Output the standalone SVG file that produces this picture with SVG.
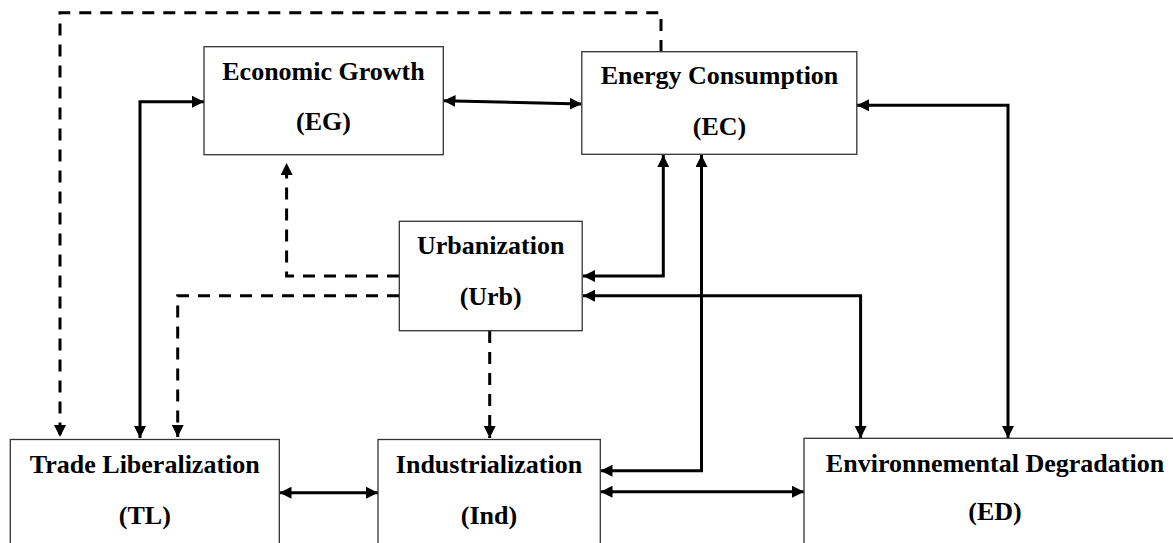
<svg xmlns="http://www.w3.org/2000/svg" width="1173" height="543" viewBox="0 0 1173 543">
<defs>
<marker id="ah" markerUnits="userSpaceOnUse" markerWidth="12" markerHeight="12" viewBox="0 0 12 12" refX="12" refY="6" orient="auto-start-reverse">
<path d="M0,0 L12,6 L0,12 z" fill="#000"/>
</marker>
<style>
.box{fill:#fff;stroke:#333;stroke-width:1.3}
.t{font-family:"Liberation Serif","Times New Roman",serif;font-weight:bold;font-size:26px;fill:#000;text-anchor:middle}
.c{fill:none;stroke:#000;stroke-width:3}
.d{fill:none;stroke:#000;stroke-width:3;stroke-dasharray:12 9}
</style>
</defs>
<rect width="1173" height="543" fill="#fff"/>
<g id="connectors">
<path class="d" d="M661,52 V12.7 H60 V437" marker-end="url(#ah)"/>
<path class="c" d="M140,438 V101.7 H204" marker-start="url(#ah)" marker-end="url(#ah)"/>
<path class="c" d="M443.5,100.7 L581.7,104" marker-start="url(#ah)" marker-end="url(#ah)"/>
<path class="c" d="M857,105.3 H1008 V438" marker-start="url(#ah)" marker-end="url(#ah)"/>
<path class="c" d="M663.3,155 V276 H583" marker-start="url(#ah)" marker-end="url(#ah)"/>
<path class="c" d="M701.5,155 V470.7 H600.5" marker-start="url(#ah)" marker-end="url(#ah)"/>
<path class="c" d="M583,295.7 H860.6 V438" marker-start="url(#ah)" marker-end="url(#ah)"/>
<path class="d" d="M399,276 H286.6 V163" marker-end="url(#ah)"/>
<path class="d" d="M399,295.7 H177.7 V437" marker-end="url(#ah)"/>
<path class="d" d="M489.7,331 V438" marker-end="url(#ah)"/>
<path class="c" d="M279.5,492.7 H378" marker-start="url(#ah)" marker-end="url(#ah)"/>
<path class="c" d="M600.5,491.7 H804" marker-start="url(#ah)" marker-end="url(#ah)"/>
</g>
<g id="EG">
<rect class="box" x="204" y="46.7" width="239.3" height="108"/>
<text class="t" x="323.5" y="80">Economic Growth</text>
<text class="t" x="323.5" y="130">(EG)</text>
</g>
<g id="EC">
<rect class="box" x="581.8" y="51.7" width="275" height="102.6"/>
<text class="t" x="719.5" y="84">Energy Consumption</text>
<text class="t" x="719.5" y="135">(EC)</text>
</g>
<g id="Urb">
<rect class="box" x="399.3" y="221.3" width="182.9" height="109.4"/>
<text class="t" x="490.7" y="254">Urbanization</text>
<text class="t" x="490.7" y="305">(Urb)</text>
</g>
<g id="TL">
<rect class="box" x="10.3" y="439.5" width="269" height="120"/>
<text class="t" x="144.8" y="472.7">Trade Liberalization</text>
<text class="t" x="144.8" y="523.5">(TL)</text>
</g>
<g id="Ind">
<rect class="box" x="378" y="439.5" width="222.3" height="120"/>
<text class="t" x="489" y="472.7">Industrialization</text>
<text class="t" x="489" y="523.5">(Ind)</text>
</g>
<g id="ED">
<rect class="box" x="804" y="438.3" width="400" height="120"/>
<text class="t" x="995" y="471.7">Environnemental Degradation</text>
<text class="t" x="995" y="520">(ED)</text>
</g>
</svg>
